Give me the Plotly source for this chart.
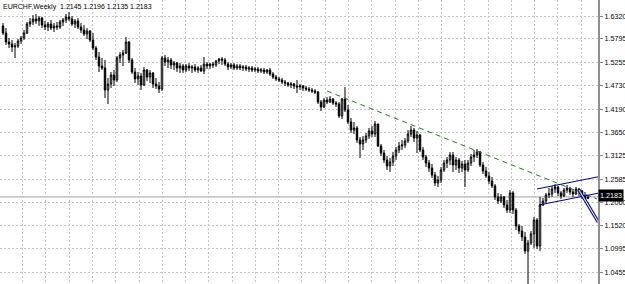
import plotly.graph_objects as go

# ---------------- data (EURCHF weekly) ----------------
TITLE = "EURCHF,Weekly  1.2145 1.2196 1.2135 1.2183"
FIRST_OPEN = 1.6091

HIGH = [
    1.6160, 1.6046, 1.5817, 1.5771, 1.5703, 1.5794, 1.5863, 1.6000, 1.6183, 1.6274,
    1.6343, 1.6366, 1.6320, 1.6297, 1.6206, 1.6183, 1.6229, 1.6160, 1.6183, 1.6229,
    1.6274, 1.6366, 1.6412, 1.6320, 1.6251, 1.6274, 1.6160, 1.6114, 1.6046, 1.6000,
    1.5931, 1.5634, 1.5497, 1.5360, 1.5314, 1.4902, 1.5040, 1.5085, 1.5405, 1.5497,
    1.5543, 1.5840, 1.5748, 1.5360, 1.5131, 1.5040, 1.5017, 1.5154, 1.5108, 1.5085,
    1.5040, 1.4902, 1.4811, 1.5405, 1.5428, 1.5382, 1.5360, 1.5291, 1.5268, 1.5245,
    1.5222, 1.5222, 1.5245, 1.5200, 1.5222, 1.5177, 1.5200, 1.5382, 1.5268, 1.5245,
    1.5268, 1.5314, 1.5360, 1.5382, 1.5360, 1.5268, 1.5245, 1.5245, 1.5222, 1.5222,
    1.5200, 1.5200, 1.5177, 1.5177, 1.5154, 1.5154, 1.5131, 1.5131, 1.5108, 1.5131,
    1.5040, 1.4971, 1.4925, 1.4902, 1.4857, 1.4811, 1.4811, 1.4788, 1.4857, 1.4765,
    1.4742, 1.4719, 1.4697, 1.4674, 1.4651, 1.4605, 1.4399, 1.4445, 1.4468, 1.4491,
    1.4445, 1.4376, 1.4354, 1.4445, 1.4697, 1.4285, 1.3988, 1.3896, 1.3805, 1.3553,
    1.3576, 1.3645, 1.3759, 1.3805, 1.3919, 1.3851, 1.3393, 1.3256, 1.3119, 1.3073,
    1.3210, 1.3325, 1.3439, 1.3485, 1.3530, 1.3713, 1.3805, 1.3759, 1.3690, 1.3622,
    1.3325, 1.3142, 1.3027, 1.2936, 1.2753, 1.2661, 1.2867, 1.3027, 1.3096, 1.3210,
    1.3210, 1.3096, 1.3073, 1.3004, 1.3027, 1.3027, 1.3165, 1.3256, 1.3279, 1.3233,
    1.2982, 1.2867, 1.2753, 1.2638, 1.2478, 1.2273, 1.2250, 1.2204, 1.2112, 1.2341,
    1.2318, 1.1929, 1.1563, 1.1518, 1.1380, 1.1198, 1.1403, 1.1723, 1.1700, 1.2181,
    1.2158, 1.2273, 1.2387, 1.2433, 1.2478, 1.2433, 1.2318, 1.2387, 1.2456, 1.2410,
    1.2364, 1.2410, 1.2387, 1.2341, 1.2296, 1.2196,
]
LOW = [
    1.5886, 1.5657, 1.5588, 1.5497, 1.5360, 1.5588, 1.5680, 1.5771, 1.5908, 1.6068,
    1.6114, 1.6137, 1.6091, 1.6046, 1.6000, 1.5977, 1.6000, 1.5954, 1.6000, 1.6023,
    1.6091, 1.6160, 1.6206, 1.6091, 1.6046, 1.6023, 1.5931, 1.5863, 1.5794, 1.5725,
    1.5543, 1.5314, 1.5040, 1.5085, 1.4445, 1.4308, 1.4674, 1.4719, 1.4811, 1.5245,
    1.5177, 1.5451, 1.5245, 1.4994, 1.4788, 1.4742, 1.4628, 1.4719, 1.4834, 1.4788,
    1.4674, 1.4651, 1.4559, 1.4605, 1.5177, 1.5131, 1.5108, 1.5085, 1.5040, 1.5017,
    1.5017, 1.5040, 1.5062, 1.5017, 1.5040, 1.5017, 1.5040, 1.4994, 1.5108, 1.5108,
    1.5131, 1.5154, 1.5222, 1.5200, 1.5177, 1.5085, 1.5108, 1.5085, 1.5085, 1.5085,
    1.5062, 1.5062, 1.5040, 1.5040, 1.5040, 1.5017, 1.5017, 1.4994, 1.4994, 1.4948,
    1.4880, 1.4834, 1.4811, 1.4765, 1.4719, 1.4697, 1.4674, 1.4651, 1.4559, 1.4628,
    1.4605, 1.4605, 1.4582, 1.4559, 1.4537, 1.4308, 1.4148, 1.4216, 1.4308, 1.4331,
    1.4285, 1.4239, 1.3988, 1.3965, 1.4125, 1.3851, 1.3645, 1.3622, 1.3416, 1.3073,
    1.3256, 1.3416, 1.3508, 1.3553, 1.3553, 1.3325, 1.3119, 1.2959, 1.2799, 1.2753,
    1.2890, 1.3027, 1.3187, 1.3256, 1.3302, 1.3416, 1.3553, 1.3439, 1.3187, 1.3210,
    1.3027, 1.2867, 1.2753, 1.2616, 1.2433, 1.2410, 1.2501, 1.2753, 1.2844, 1.2913,
    1.2753, 1.2799, 1.2730, 1.2753, 1.2410, 1.2753, 1.2890, 1.2982, 1.3073, 1.2867,
    1.2707, 1.2616, 1.2478, 1.2387, 1.2112, 1.2021, 1.2044, 1.1929, 1.1815, 1.1815,
    1.1792, 1.1426, 1.1335, 1.1175, 1.0877, 1.0100, 1.1083, 1.1015, 1.0992, 1.0946,
    1.1975, 1.2044, 1.2158, 1.2181, 1.2273, 1.2204, 1.2135, 1.2181, 1.2273, 1.2227,
    1.2181, 1.2227, 1.2204, 1.2135, 1.2112, 1.2135,
]
CLOSE = [
    1.5931, 1.5725, 1.5680, 1.5611, 1.5634, 1.5748, 1.5817, 1.5931, 1.6137, 1.6183,
    1.6251, 1.6206, 1.6274, 1.6114, 1.6068, 1.6137, 1.6046, 1.6091, 1.6068, 1.6183,
    1.6229, 1.6297, 1.6251, 1.6137, 1.6206, 1.6068, 1.6000, 1.5908, 1.5977, 1.5771,
    1.5588, 1.5382, 1.5177, 1.5131, 1.4628, 1.4765, 1.4971, 1.4857, 1.5360, 1.5428,
    1.5474, 1.5725, 1.5314, 1.5040, 1.4880, 1.4948, 1.4742, 1.5085, 1.4925, 1.5017,
    1.4765, 1.4719, 1.4651, 1.5360, 1.5268, 1.5314, 1.5200, 1.5245, 1.5131, 1.5177,
    1.5085, 1.5177, 1.5131, 1.5154, 1.5085, 1.5131, 1.5062, 1.5222, 1.5177, 1.5222,
    1.5200, 1.5291, 1.5337, 1.5314, 1.5222, 1.5154, 1.5200, 1.5131, 1.5177, 1.5131,
    1.5154, 1.5108, 1.5131, 1.5085, 1.5108, 1.5062, 1.5085, 1.5040, 1.5085, 1.4994,
    1.4925, 1.4880, 1.4857, 1.4811, 1.4788, 1.4742, 1.4765, 1.4719, 1.4697, 1.4719,
    1.4674, 1.4651, 1.4628, 1.4605, 1.4582, 1.4354, 1.4239, 1.4399, 1.4354, 1.4422,
    1.4331, 1.4308, 1.4033, 1.4422, 1.4171, 1.3896, 1.3713, 1.3759, 1.3485, 1.3393,
    1.3485, 1.3576, 1.3690, 1.3622, 1.3851, 1.3347, 1.3187, 1.3027, 1.2890, 1.2982,
    1.3119, 1.3256, 1.3347, 1.3370, 1.3462, 1.3622, 1.3713, 1.3530, 1.3599, 1.3256,
    1.3096, 1.2959, 1.2844, 1.2684, 1.2501, 1.2570, 1.2799, 1.2959, 1.3027, 1.3142,
    1.2913, 1.3027, 1.2844, 1.2936, 1.2799, 1.2959, 1.3096, 1.3142, 1.3210, 1.2913,
    1.2776, 1.2661, 1.2547, 1.2433, 1.2181, 1.2089, 1.2181, 1.1998, 1.1884, 1.2273,
    1.1884, 1.1518, 1.1403, 1.1266, 1.0946, 1.1129, 1.1335, 1.1655, 1.1060, 1.1998,
    1.2089, 1.2227, 1.2250, 1.2364, 1.2410, 1.2273, 1.2204, 1.2341, 1.2387, 1.2296,
    1.2250, 1.2364, 1.2318, 1.2204, 1.2145, 1.2183,
]
BID = 1.2183

Y_TICKS = [1.6320, 1.5795, 1.5255, 1.4730, 1.4190, 1.3650, 1.3125,
           1.2585, 1.2060, 1.1520, 1.0995, 1.0455]

# drawn objects (bar index, price)
GREEN_TREND_X = [108, 198]
GREEN_TREND_Y = [1.4605, 1.2135]
CH_UPPER_X = [178, 198.4]
CH_UPPER_Y = [1.2364, 1.2643]
CH_LOWER_X = [178.7, 198.4]
CH_LOWER_Y = [1.1998, 1.2268]
ARROW_X = [192, 198.4]
ARROW_Y = [1.2341, 1.1609]

# ---------------- figure ----------------
N = len(CLOSE)
idx = list(range(N))
OPEN = [FIRST_OPEN] + CLOSE[:-1]

fig = go.Figure()
fig.add_trace(go.Candlestick(
    x=idx, open=OPEN, high=HIGH, low=LOW, close=CLOSE,
    increasing=dict(line=dict(color="black", width=1), fillcolor="white"),
    decreasing=dict(line=dict(color="black", width=1), fillcolor="black"),
    whiskerwidth=0, hoverinfo="skip", showlegend=False,
))
fig.add_trace(go.Scatter(x=GREEN_TREND_X, y=GREEN_TREND_Y, mode="lines",
                         line=dict(color="#1f7a1f", width=1, dash="5px,4px"),
                         hoverinfo="skip", showlegend=False))
for xs, ys in ((CH_UPPER_X, CH_UPPER_Y), (CH_LOWER_X, CH_LOWER_Y)):
    fig.add_trace(go.Scatter(x=xs, y=ys, mode="lines",
                             line=dict(color="#000080", width=1),
                             hoverinfo="skip", showlegend=False))
fig.add_trace(go.Scatter(x=ARROW_X, y=ARROW_Y, mode="lines",
                         line=dict(color="#000080", width=3.2),
                         hoverinfo="skip", showlegend=False))
fig.add_trace(go.Scatter(x=ARROW_X, y=ARROW_Y, mode="lines",
                         line=dict(color="#dfe3f5", width=1.2),
                         hoverinfo="skip", showlegend=False))

FONT = "Liberation Sans, Arial, sans-serif"
GRID = "#c4c4c4"
fig.update_layout(
    width=625, height=284,
    margin=dict(l=0, r=27, t=0, b=0),
    paper_bgcolor="white", plot_bgcolor="white",
    showlegend=False,
    xaxis=dict(range=[-1, 198.33], showgrid=True, gridcolor=GRID, griddash="2px,2px",
               gridwidth=1, tick0=6.567, dtick=7.757, showticklabels=False,
               ticks="", zeroline=False, showline=False,
               rangeslider=dict(visible=False), fixedrange=True),
    yaxis=dict(range=[1.01914, 1.66859], side="right", tickvals=Y_TICKS,
               ticktext=[f"{v:.4f}" for v in Y_TICKS],
               showgrid=True, gridcolor=GRID, griddash="2px,2px", gridwidth=1,
               ticks="outside", ticklen=3, tickcolor="#808080", tickwidth=1,
               showline=True, linecolor="#909090", linewidth=2,
               zeroline=False, fixedrange=True,
               tickfont=dict(family=FONT, size=7.2, color="black")),
    shapes=[dict(type="line", xref="paper", x0=0, x1=1, yref="y", y0=BID, y1=BID,
                 line=dict(color="#a0a0a0", width=1), layer="between")],
    annotations=[
        dict(xref="paper", yref="paper", x=0, y=1, xanchor="left", yanchor="top",
             text=TITLE, showarrow=False, xshift=1, yshift=-1,
             font=dict(family=FONT, size=7, color="black")),
        dict(xref="paper", yref="y", x=1, y=BID, xanchor="left", yanchor="middle",
             text=f"{BID:.4f}", showarrow=False, bgcolor="black", borderpad=1,
             xshift=0, yshift=1, font=dict(family=FONT, size=7.2, color="white")),
    ],
)

fig.write_html("out.html", config={"displayModeBar": False})
